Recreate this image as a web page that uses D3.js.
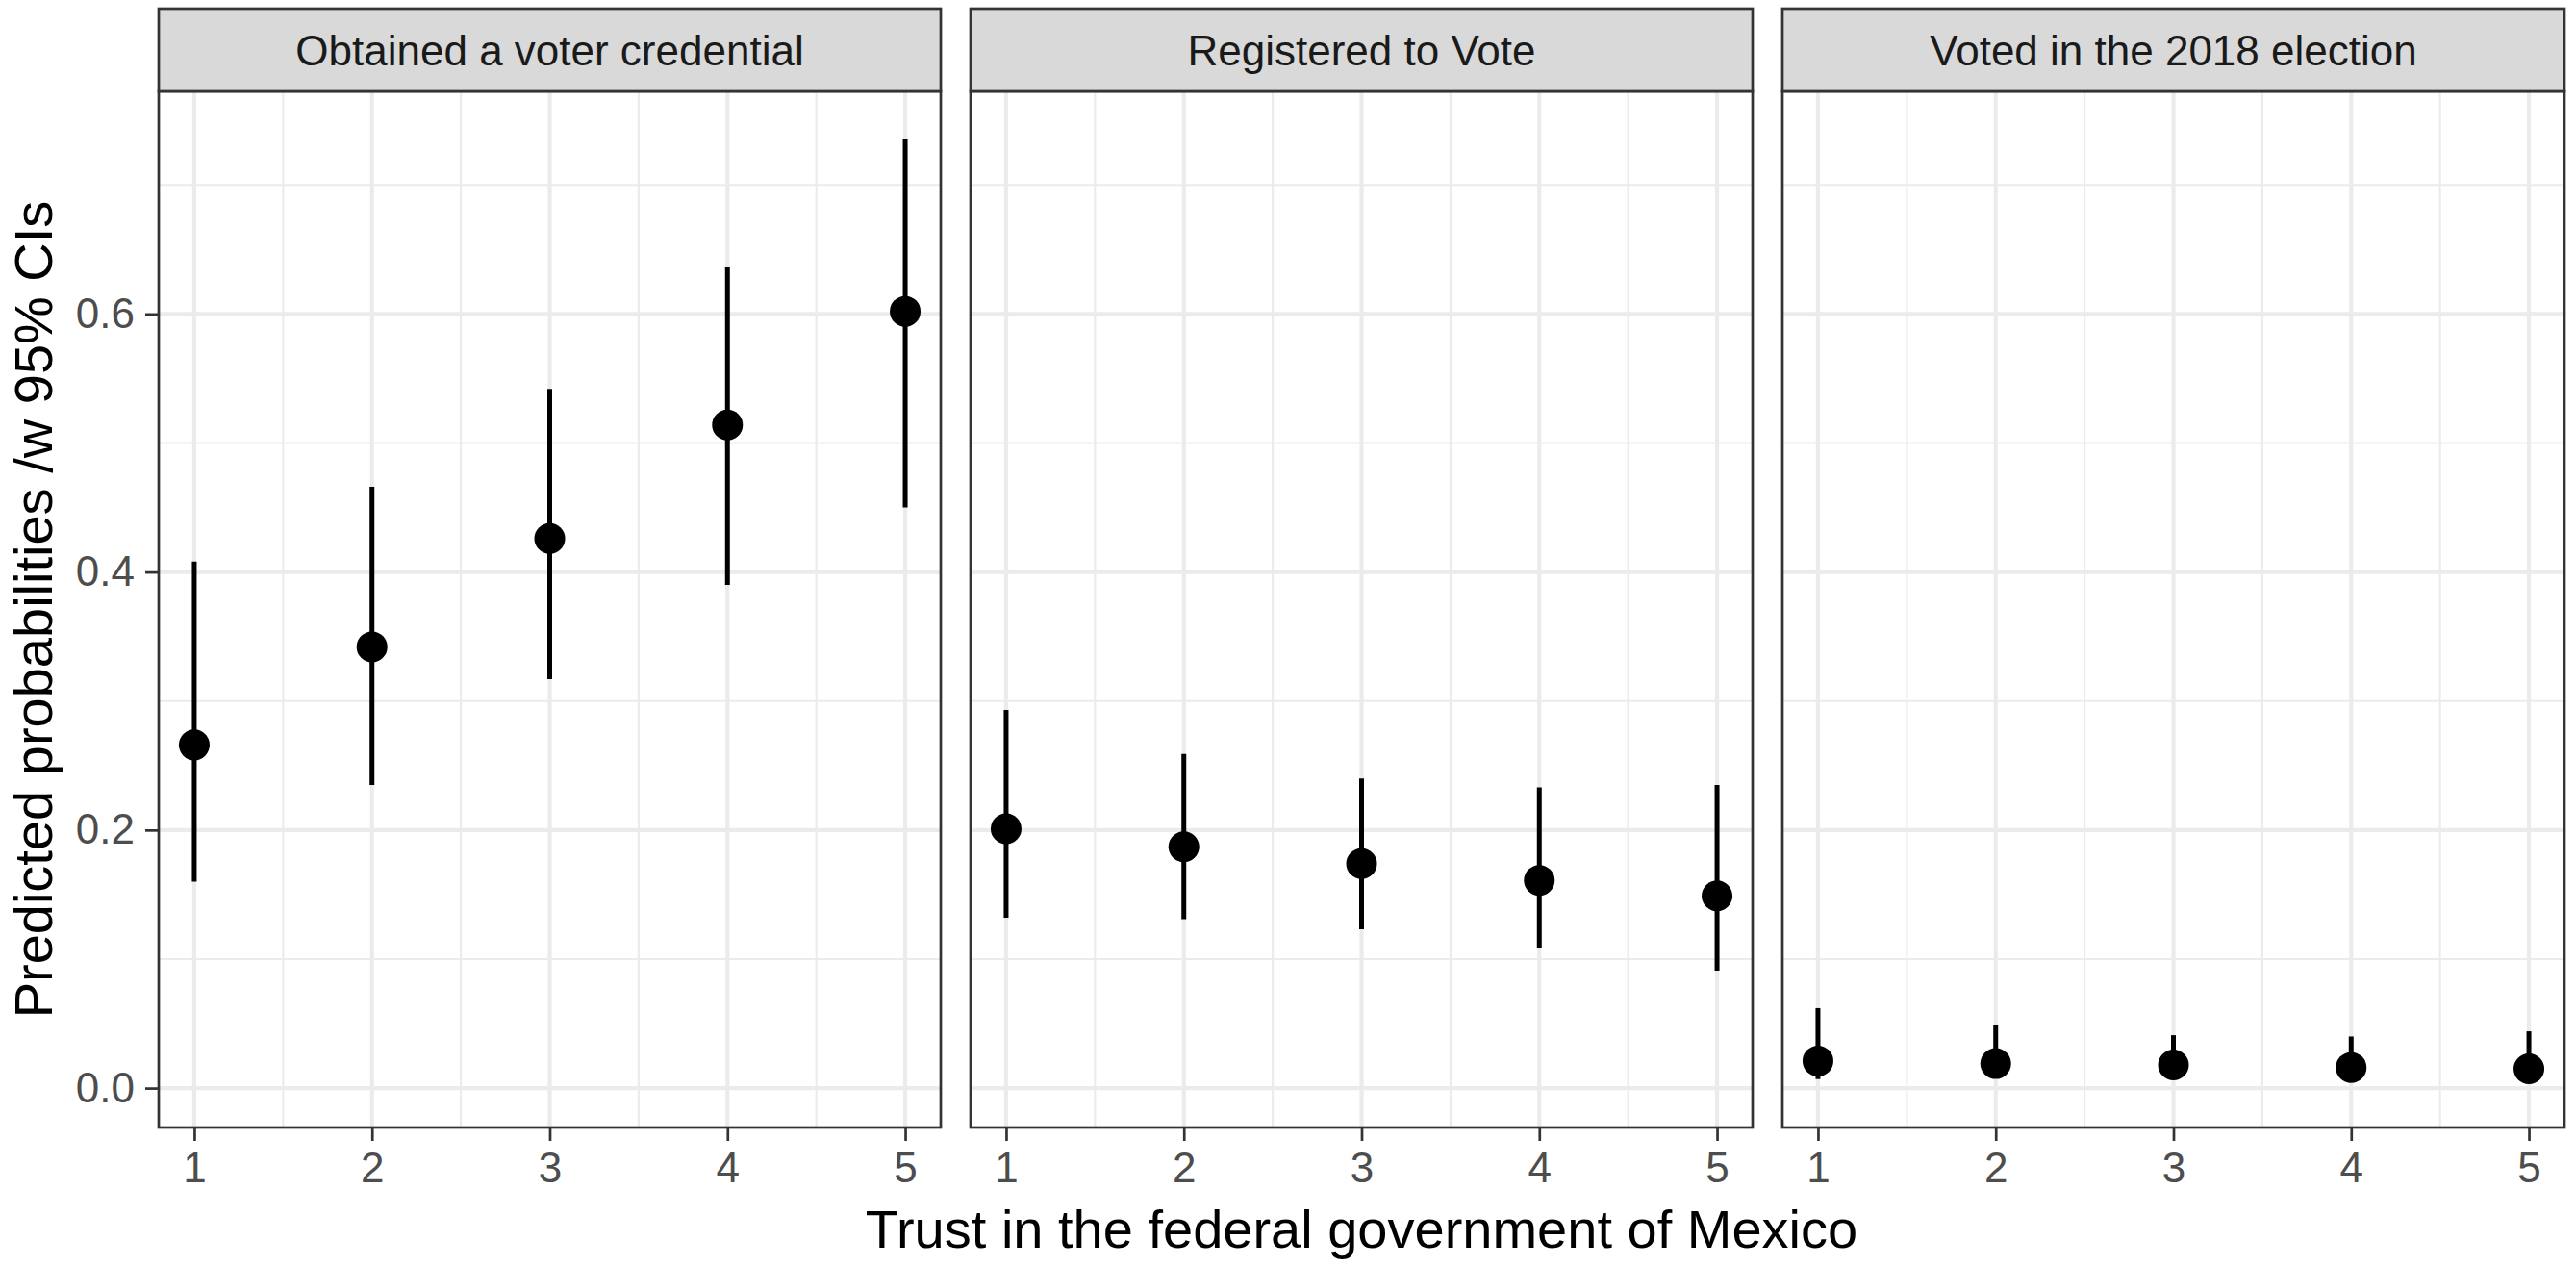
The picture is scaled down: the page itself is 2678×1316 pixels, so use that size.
<!DOCTYPE html>
<html>
<head>
<meta charset="utf-8">
<script src="https://cdn.jsdelivr.net/npm/d3@7"></script>
<style>
  html, body { margin: 0; padding: 0; background: #fff; }
  svg { display: block; font-family: "Liberation Sans", Arial, Helvetica, sans-serif; }
</style>
</head>
<body>
<svg id="chart" width="2678" height="1316"></svg>
<script>
// ---- data ----
const panels = ["Obtained a voter credential", "Registered to Vote", "Voted in the 2018 election"];
const trustLevels = [1, 2, 3, 4, 5];
const credentialEst   = [0.266, 0.342, 0.426, 0.514, 0.602];
const credentialLow   = [0.160, 0.235, 0.317, 0.390, 0.450];
const credentialHigh  = [0.408, 0.466, 0.542, 0.636, 0.736];
const registeredEst   = [0.201, 0.187, 0.174, 0.161, 0.149];
const registeredLow   = [0.132, 0.131, 0.123, 0.109, 0.091];
const registeredHigh  = [0.293, 0.259, 0.240, 0.233, 0.235];
const votedEst        = [0.021, 0.019, 0.018, 0.016, 0.015];
const votedLow        = [0.007, 0.008, 0.008, 0.007, 0.006];
const votedHigh       = [0.062, 0.049, 0.041, 0.040, 0.044];
const yTicks = [0.0, 0.2, 0.4, 0.6];
const yMinorTicks = [0.1, 0.3, 0.5, 0.7];
const xTicks = [1, 2, 3, 4, 5];
const xMinorTicks = [1.5, 2.5, 3.5, 4.5];
const xTitle = "Trust in the federal government of Mexico";
const yTitle = "Predicted probabilities /w 95% CIs";

const seriesData = [
  {est: credentialEst, low: credentialLow, high: credentialHigh},
  {est: registeredEst, low: registeredLow, high: registeredHigh},
  {est: votedEst, low: votedLow, high: votedHigh}
];

// ---- layout ----
const panelLeft = 165, panelW = 813, panelGap = 31;
const stripTop = 9, stripBottom = 95, plotBottom = 1172;

const svg = d3.select("#chart");

// y scale with ggplot-like 5% expansion
const allLow = d3.min(seriesData, s => d3.min(s.low));
const allHigh = d3.max(seriesData, s => d3.max(s.high));
const ySpan = allHigh - allLow;
const y = d3.scaleLinear()
  .domain([allLow - 0.05 * ySpan, allHigh + 0.05 * ySpan])
  .range([plotBottom, stripBottom]);

const xSpan = 4;
const xDomain = [1 - 0.05 * xSpan, 5 + 0.05 * xSpan];

const borderColor = "#333333";
const gridColor = "#EBEBEB";

panels.forEach((name, i) => {
  const x0 = panelLeft + i * (panelW + panelGap);
  const x = d3.scaleLinear().domain(xDomain).range([x0, x0 + panelW]);
  const g = svg.append("g");
  const d = seriesData[i];

  g.append("rect").attr("x", x0).attr("y", stripBottom)
    .attr("width", panelW).attr("height", plotBottom - stripBottom).attr("fill", "#fff");

  // minor grid
  g.selectAll(".ymin").data(yMinorTicks).join("line")
    .attr("x1", x0).attr("x2", x0 + panelW)
    .attr("y1", v => y(v)).attr("y2", v => y(v))
    .attr("stroke", gridColor).attr("stroke-width", 2.1);
  g.selectAll(".xmin").data(xMinorTicks).join("line")
    .attr("x1", v => x(v)).attr("x2", v => x(v))
    .attr("y1", stripBottom).attr("y2", plotBottom)
    .attr("stroke", gridColor).attr("stroke-width", 2.1);
  // major grid
  g.selectAll(".ymaj").data(yTicks).join("line")
    .attr("x1", x0).attr("x2", x0 + panelW)
    .attr("y1", v => y(v)).attr("y2", v => y(v))
    .attr("stroke", gridColor).attr("stroke-width", 4.2);
  g.selectAll(".xmaj").data(xTicks).join("line")
    .attr("x1", v => x(v)).attr("x2", v => x(v))
    .attr("y1", stripBottom).attr("y2", plotBottom)
    .attr("stroke", gridColor).attr("stroke-width", 4.2);

  // error bars
  g.selectAll(".err").data(trustLevels).join("line")
    .attr("x1", (t) => x(t)).attr("x2", (t) => x(t))
    .attr("y1", (t, j) => y(d.low[j])).attr("y2", (t, j) => y(d.high[j]))
    .attr("stroke", "#000").attr("stroke-width", 5);
  // points
  g.selectAll(".pt").data(trustLevels).join("circle")
    .attr("cx", (t) => x(t)).attr("cy", (t, j) => y(d.est[j]))
    .attr("r", 16).attr("fill", "#000");

  // panel border
  g.append("rect").attr("x", x0).attr("y", stripBottom)
    .attr("width", panelW).attr("height", plotBottom - stripBottom)
    .attr("fill", "none").attr("stroke", borderColor).attr("stroke-width", 2.7);

  // strip
  g.append("rect").attr("x", x0).attr("y", stripTop)
    .attr("width", panelW).attr("height", stripBottom - stripTop)
    .attr("fill", "#D9D9D9").attr("stroke", borderColor).attr("stroke-width", 2.7);
  g.append("text").attr("x", x0 + panelW / 2).attr("y", (stripTop + stripBottom) / 2)
    .attr("text-anchor", "middle").attr("dominant-baseline", "central")
    .attr("font-size", 44).attr("fill", "#1A1A1A").text(name);

  // x axis
  const xAxis = d3.axisBottom(x).tickValues(xTicks).tickSize(14).tickPadding(12)
    .tickFormat(d3.format("d"));
  const ax = g.append("g").attr("transform", `translate(0,${plotBottom})`).call(xAxis);
  ax.select(".domain").remove();
  ax.selectAll(".tick line").attr("stroke", borderColor).attr("stroke-width", 2.7);
  ax.selectAll(".tick text").attr("font-size", 44).attr("fill", "#4D4D4D")
    .attr("font-family", "Liberation Sans, Arial, sans-serif");

  if (i === 0) {
    const yAxis = d3.axisLeft(y).tickValues(yTicks).tickSize(14).tickPadding(11)
      .tickFormat(d3.format(".1f"));
    const ay = g.append("g").attr("transform", `translate(${x0},0)`).call(yAxis);
    ay.select(".domain").remove();
    ay.selectAll(".tick line").attr("stroke", borderColor).attr("stroke-width", 2.7);
    ay.selectAll(".tick text").attr("font-size", 44).attr("fill", "#4D4D4D")
      .attr("font-family", "Liberation Sans, Arial, sans-serif");
  }
});

// axis titles
const totalLeft = panelLeft, totalRight = panelLeft + 3 * panelW + 2 * panelGap;
svg.append("text").attr("x", (totalLeft + totalRight) / 2).attr("y", 1297)
  .attr("text-anchor", "middle").attr("font-size", 56).attr("fill", "#000").text(xTitle);
svg.append("text")
  .attr("transform", `translate(54,${(stripBottom + plotBottom) / 2}) rotate(-90)`)
  .attr("text-anchor", "middle").attr("font-size", 56).attr("fill", "#000").text(yTitle);
</script>
</body>
</html>
